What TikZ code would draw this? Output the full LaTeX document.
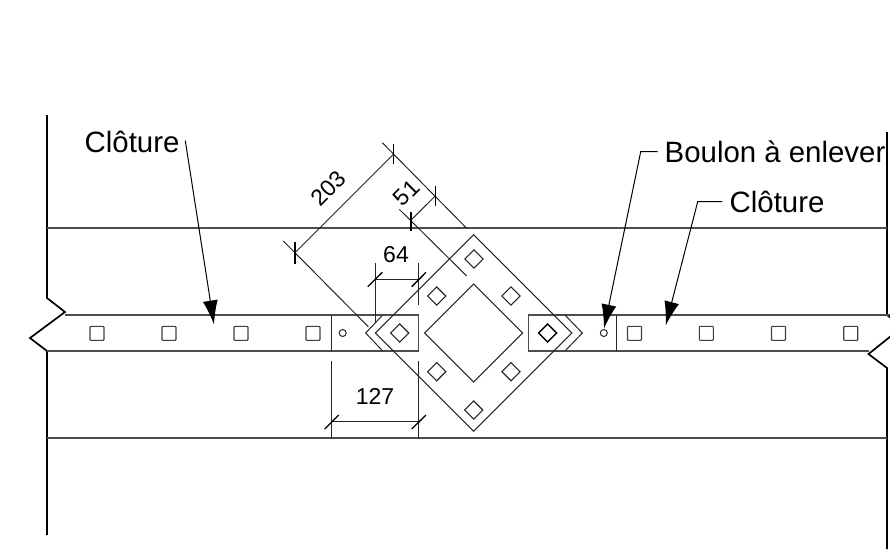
\documentclass[tikz,border=0pt]{standalone}
\usepackage{fontspec}
\setmainfont{Liberation Sans}
\usetikzlibrary{shapes,arrows,arrows.meta}
\tikzstyle{wall} = [draw, black, line width=1.7pt, line join=miter]
\tikzstyle{rail} = [draw, black!70, line width=1.3pt]
\tikzstyle{fine} = [draw, black!85, line width=1pt]
\tikzstyle{tick} = [draw, black, line width=1.3pt]
\tikzstyle{plate} = [diamond, draw, black!85, line width=1.1pt, inner sep=0, aspect=1]
\tikzstyle{hole} = [plate, minimum width=18.6pt, minimum height=18.6pt]
\tikzstyle{darkhole} = [hole, black, line width=1.4pt]
\tikzstyle{square} = [rectangle, draw, black!75, line width=1.1pt, rounded corners=0.8pt, inner sep=0, minimum size=14pt]
\tikzstyle{bolt} = [circle, draw, black!85, line width=1pt, inner sep=0, minimum size=7pt]
\tikzstyle{tag} = [inner sep=0, black, font=\fontsize{29.4}{30}\selectfont]
\tikzstyle{dim} = [inner sep=0, black, font=\fontsize{23}{24}\selectfont]
\tikzstyle{leader} = [draw, black, line width=1pt, -{Latex[length=24pt,width=15pt]}]

\begin{document}
\begin{tikzpicture}[x=1pt,y=-1pt]
\useasboundingbox (0,0) rectangle (890,549);

% walls
\draw [wall] (47,115) -- (47,298) -- (65,312) -- (30,338) -- (47,351) -- (47,535);
\draw [wall] (887,132) -- (887,315) -- (891,318);
\draw [wall] (891,336) -- (868.5,354) -- (887,368) -- (887,549);

% rails
\draw [rail] (47,228) -- (887,228);
\draw [rail] (47,438) -- (887,438);

% strips
\draw [rail] (65,315) -- (418.7,315) -- (418.7,351) -- (47,351);
\draw [rail] (890,315) -- (528.3,315) -- (528.3,351) -- (868.5,351);
\draw [fine] (331.7,315) -- (331.7,351);
\draw [fine] (616.7,315) -- (616.7,351);
\draw [fine] (382.7,315) -- (365.7,333) -- (382.7,351);
\draw [fine] (565,315) -- (582.3,333) -- (565,351);

% plate
\node [plate, minimum width=197pt, minimum height=197pt] (outer) at (473.6,333) {};
\node [plate, minimum width=98.6pt, minimum height=98.6pt] (inner) at (473.6,333) {};
\node [hole] (holeL) at (399.7,333) {};
\node [darkhole] (holeR) at (547.7,333) {};
\node [hole] (holeT) at (474,259) {};
\node [hole] (holeB) at (473.7,410) {};
\node [hole] (holeTL) at (436.7,296) {};
\node [hole] (holeTR) at (511,296) {};
\node [hole] (holeBL) at (436.7,371.7) {};
\node [hole] (holeBR) at (511,371.7) {};

% fence holes
\foreach \x/\n in {97/a,169/b,241/c,313/d}
  \node [square] (sq\n) at (\x,333.3) {};
\foreach \x/\n in {634.5/e,706.3/f,778.5/g,850.7/h}
  \node [square] (sq\n) at (\x,333.3) {};
\node [bolt] (boltL) at (342.7,333) {};
\node [bolt] (boltR) at (603.8,333) {};

% dimensions
\coordinate (a1) at (295,252.7);
\coordinate (a2) at (393.7,154);
\draw [fine] (283.3,241) -- (368.3,326.7);
\draw [fine] (382.3,142.7) -- (466.7,228.3);
\draw [fine] (a1) -- (a2);
\node [dim, rotate=45] (dimA) at (328.5,188.5) {203};
\draw [tick] (295,242) -- (295,264);
\draw [tick] (393.7,144) -- (393.7,164);

\coordinate (b1) at (411,220);
\coordinate (b2) at (435.3,196);
\draw [fine] (399.3,209.3) -- (466.7,276);
\draw [fine] (b1) -- (b2);
\node [dim, rotate=45] (dimB) at (406.5,193) {51};
\draw [tick] (411,212) -- (411,231);
\draw [tick] (435.3,186) -- (435.3,206);

\coordinate (c1) at (375,279);
\coordinate (c2) at (418.7,279);
\draw [fine] (375,263) -- (375,323);
\draw [fine] (418.7,263) -- (418.7,305);
\draw [fine] (c1) -- (c2);
\node [dim] (dimC) at (396,254.3) {64};
\draw [tick] (367.7,286.7) -- (382.3,272.3);
\draw [tick] (411.7,286.7) -- (426,272.3);

\coordinate (d1) at (331.7,421.7);
\coordinate (d2) at (418.7,421.7);
\draw [fine] (331.7,360.7) -- (331.7,439.3);
\draw [fine] (418.7,360.7) -- (418.7,439.3);
\draw [fine] (d1) -- (d2);
\node [dim] (dimD) at (375,396) {127};
\draw [tick] (324.7,429) -- (338.7,415);
\draw [tick] (411.7,429) -- (426,415);

% labels
\node [tag, anchor=west] (fenceL) at (84.5,142) {Clôture};
\node [tag, anchor=west] (boulon) at (664.5,151.5) {Boulon à enlever};
\node [tag, anchor=west] (fenceR) at (729.5,202) {Clôture};

\coordinate (fenceLtip) at (214,324.5);
\coordinate (fenceRtip) at (665.7,325.5);
\coordinate (boulonTip) at (604,328.5);
\coordinate (fenceLend) at (185.3,140.7);
\coordinate (boulonEnd) at (657.7,151.7);
\coordinate (fenceRend) at (722.3,201.7);

\path [leader] (fenceLend) -- (fenceLtip);
\path [leader] (boulonEnd) -- (640.7,151.7) -- (boulonTip);
\path [leader] (fenceRend) -- (697.7,201.7) -- (fenceRtip);

\end{tikzpicture}
\end{document}
